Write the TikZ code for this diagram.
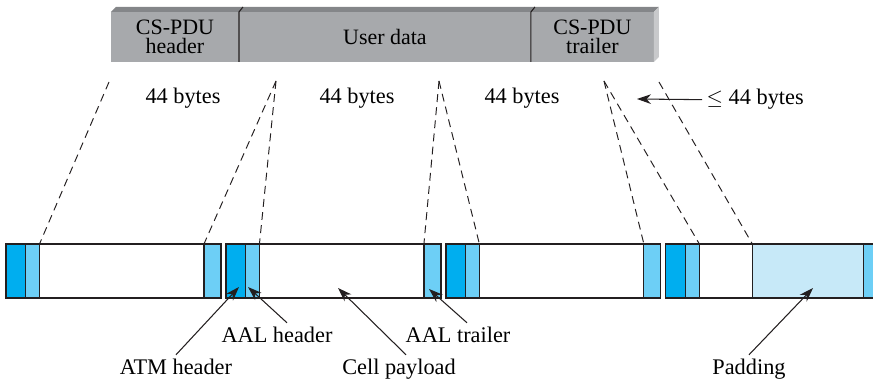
\documentclass[tikz,border=0pt]{standalone}
\usepackage{fontspec}
\setmainfont{Liberation Serif}
\usepackage{xcolor}
\usepackage{tikz}
\usetikzlibrary{arrows.meta,positioning}

\definecolor{frontgray}{RGB}{167,169,172}
\definecolor{topgray}{RGB}{132,134,137}
\definecolor{sidegray}{RGB}{200,201,203}
\definecolor{atmblue}{RGB}{0,174,239}
\definecolor{aalblue}{RGB}{109,207,246}
\definecolor{padblue}{RGB}{199,233,248}
\definecolor{linec}{RGB}{35,31,32}

\begin{document}
\begin{tikzpicture}[
    x=0.02cm, y=-0.02cm,
    font=\fontsize{12.7}{14}\selectfont,
    seg/.style={rectangle, draw=linec, line width=0.7pt, inner sep=0pt, outer sep=0pt, minimum height=1.08cm},
    atm/.style={seg, fill=atmblue, minimum width=0.39cm},
    aal/.style={seg, fill=aalblue, minimum width=0.28cm},
    payload/.style={seg, fill=white, minimum width=3.29cm},
    aaltrl/.style={seg, fill=aalblue, minimum width=0.34cm},
    pdu/.style={rectangle, fill=frontgray, inner sep=0pt, outer sep=0pt, minimum height=1.0cm, align=center, font=\fontsize{12.5}{11}\selectfont},
    cut/.style={draw=linec, dash pattern=on 4.5pt off 3pt, line width=0.55pt},
    lbl/.style={inner sep=2.5pt, anchor=base},
    pointer/.style={draw=linec, -{Stealth[length=8pt,width=5.5pt]}, line width=0.6pt}
]
\clip (0,0) rectangle (873,381);

% CS-PDU (Top - grey bar)
\node[pdu, minimum width=2.56cm, anchor=north west] (hdr) at (111,12) {CS-PDU\\header};
\node[pdu, minimum width=5.84cm, right=0pt of hdr] (udata) {User data};
\node[pdu, minimum width=2.46cm, right=0pt of udata] (pdutrl) {CS-PDU\\trailer};
\fill[topgray] (hdr.north west) -- ++(5,-5) -- ([shift={(5,-5)}]pdutrl.north east) -- (pdutrl.north east) -- cycle;
\fill[sidegray] (pdutrl.north east) -- ++(5,-5) -- ([shift={(5,-5)}]pdutrl.south east) -- (pdutrl.south east) -- cycle;
\draw[linec, line width=0.6pt] (hdr.south east) -- (hdr.north east) -- ++(4,-5);
\draw[linec, line width=0.6pt] (udata.south east) -- (udata.north east) -- ++(4,-5);

% Byte counts
\node[lbl] (bytes1) at (183,104) {44 bytes};
\node[lbl] (bytes2) at (357,104) {44 bytes};
\node[lbl] (bytes3) at (522,104) {44 bytes};
\node[lbl, anchor=base west] (lebytes) at (702,105) {$\leq$ 44 bytes};
\coordinate (lep) at (637,99);
\draw[pointer] (lebytes.west) -- (lep);

% Cells (Bottom)
\node[atm, anchor=north west] (atm1) at (6,244) {};
\node[aal, right=0pt of atm1] (aal1) {};
\node[payload, right=0pt of aal1] (pay1) {};
\node[aaltrl, right=0pt of pay1] (trl1) {};

\node[atm, right=0.1cm of trl1] (atm2) {};
\node[aal, right=0pt of atm2] (aal2) {};
\node[payload, right=0pt of aal2] (pay2) {};
\node[aaltrl, right=0pt of pay2] (trl2) {};

\node[atm, right=0.1cm of trl2] (atm3) {};
\node[aal, right=0pt of atm3] (aal3) {};
\node[payload, right=0pt of aal3] (pay3) {};
\node[aaltrl, right=0pt of pay3] (trl3) {};

\node[atm, right=0.1cm of trl3] (atm4) {};
\node[aal, right=0pt of atm4] (aal4) {};
\node[payload, minimum width=1.06cm, right=0pt of aal4] (pay4) {};
\node[seg, fill=padblue, minimum width=2.23cm, right=0pt of pay4] (pad4) {};
\node[aaltrl, right=0pt of pad4] (trl4) {};

% Segmentation lines
\coordinate (c1) at (109,82);
\coordinate (c2) at (276,81);
\coordinate (c3) at (439,81);
\coordinate (c4) at (604,81);
\coordinate (c5) at (659,82);
\draw[cut] (c1) -- (aal1.north east);
\draw[cut] (c2) -- (trl1.north west);
\draw[cut] (c2) -- (aal2.north east);
\draw[cut] (c3) -- (trl2.north west);
\draw[cut] (c3) -- (aal3.north east);
\draw[cut] (c4) -- (trl3.north west);
\draw[cut] (c4) -- (aal4.north east);
\draw[cut] (c5) -- (pay4.north east);

% Labels
\node[lbl] (atmlbl) at (176,375) {ATM header};
\node[lbl] (aalhlbl) at (277,343) {AAL header};
\node[lbl] (paylbl) at (399,375) {Cell payload};
\node[lbl] (aaltlbl) at (458,343) {AAL trailer};
\node[lbl] (padlbl) at (749,375) {Padding};
\coordinate (patm) at (239,287);
\coordinate (paalh) at (248,287);
\coordinate (ppay) at (338,288);
\coordinate (paalt) at (429,289);
\coordinate (ppad) at (813,288);
\draw[pointer] (atmlbl.north) -- (patm);
\draw[pointer] ([xshift=0.2cm]aalhlbl.north) -- (paalh);
\draw[pointer] ([xshift=0.14cm]paylbl.north) -- (ppay);
\draw[pointer] ([xshift=0.18cm]aaltlbl.north) -- (paalt);
\draw[pointer] (padlbl.north) -- (ppad);

\end{tikzpicture}
\end{document}
